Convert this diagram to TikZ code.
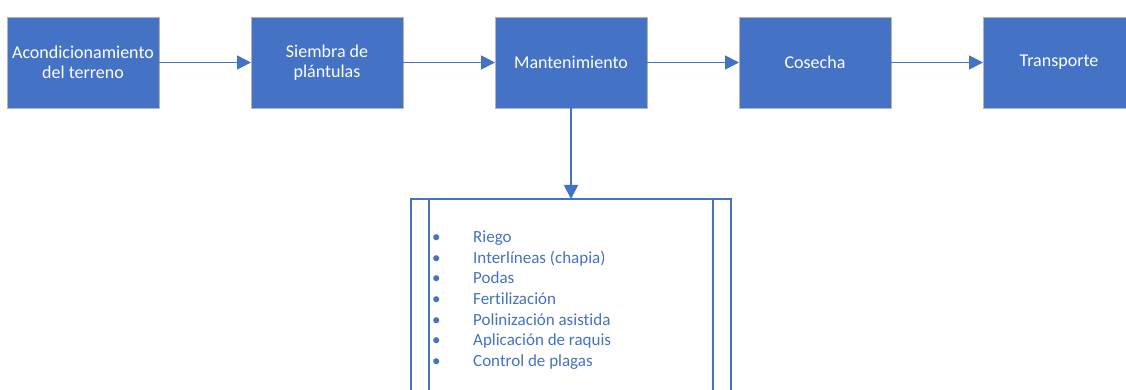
\documentclass[tikz,border=0pt]{standalone}
\usepackage{fontspec}
\setmainfont{Carlito}[Ligatures=NoCommon]
\usetikzlibrary{positioning, arrows.meta}
\definecolor{stageblue}{HTML}{4472C4}
\definecolor{stageedge}{HTML}{B4B4B4}

\begin{document}
\begin{tikzpicture}[x=1pt, y=-1pt,
  stage/.style={draw=stageedge, line width=0.8pt, fill=stageblue, text=white,
                minimum width=152pt, minimum height=91pt, inner sep=0pt,
                outer sep=0pt, align=center, font=\fontsize{18}{20}\selectfont},
  flow/.style={draw=stageblue, line width=1.8pt,
               -{Triangle[length=14pt, width=14pt]}},
  process/.style={draw=stageblue, line width=1.3pt, fill=white, outer sep=0pt,
                  minimum width=320pt, minimum height=230pt, inner sep=0pt}]
\useasboundingbox (0,0) rectangle (1126,390);
\clip (0,0) rectangle (1126,390);
%
% etapas
\node[stage] (acond) at (83,62.5) {Acondicionamiento\\del terreno};
\node[stage, right=92pt of acond] (siembra) {Siembra de\\plántulas};
\node[stage, right=92pt of siembra] (mant) {Mantenimiento};
\node[stage, right=92pt of mant] (cosecha) {Cosecha};
\node[stage, right=92pt of cosecha] (transp) {Transporte};

\draw[flow] (acond) -- (siembra);
\draw[flow] (siembra) -- (mant);
\draw[flow] (mant) -- (cosecha);
\draw[flow] (cosecha) -- (transp);
%
% labores de mantenimiento
\node[process, anchor=north] (labores) at (571,199) {};
\draw[stageblue, line width=1.3pt] ([xshift=18pt]labores.north west) -- ([xshift=18pt]labores.south west);
\draw[stageblue, line width=1.3pt] ([xshift=-18pt]labores.north east) -- ([xshift=-18pt]labores.south east);
\node[anchor=north west, inner sep=0pt, text=stageblue,
      font=\fontsize{17}{20.6}\selectfont] (tareas) at (432,228)
  {\begin{tabular}{@{}p{41pt}@{}l@{}}
   \textbullet & Riego\\
   \textbullet & Interlíneas (chapia)\\
   \textbullet & Podas\\
   \textbullet & Fertilización\\
   \textbullet & Polinización asistida\\
   \textbullet & Aplicación de raquis\\
   \textbullet & Control de plagas
   \end{tabular}};

\draw[flow] (mant) -- (labores);
%
\end{tikzpicture}
\end{document}
